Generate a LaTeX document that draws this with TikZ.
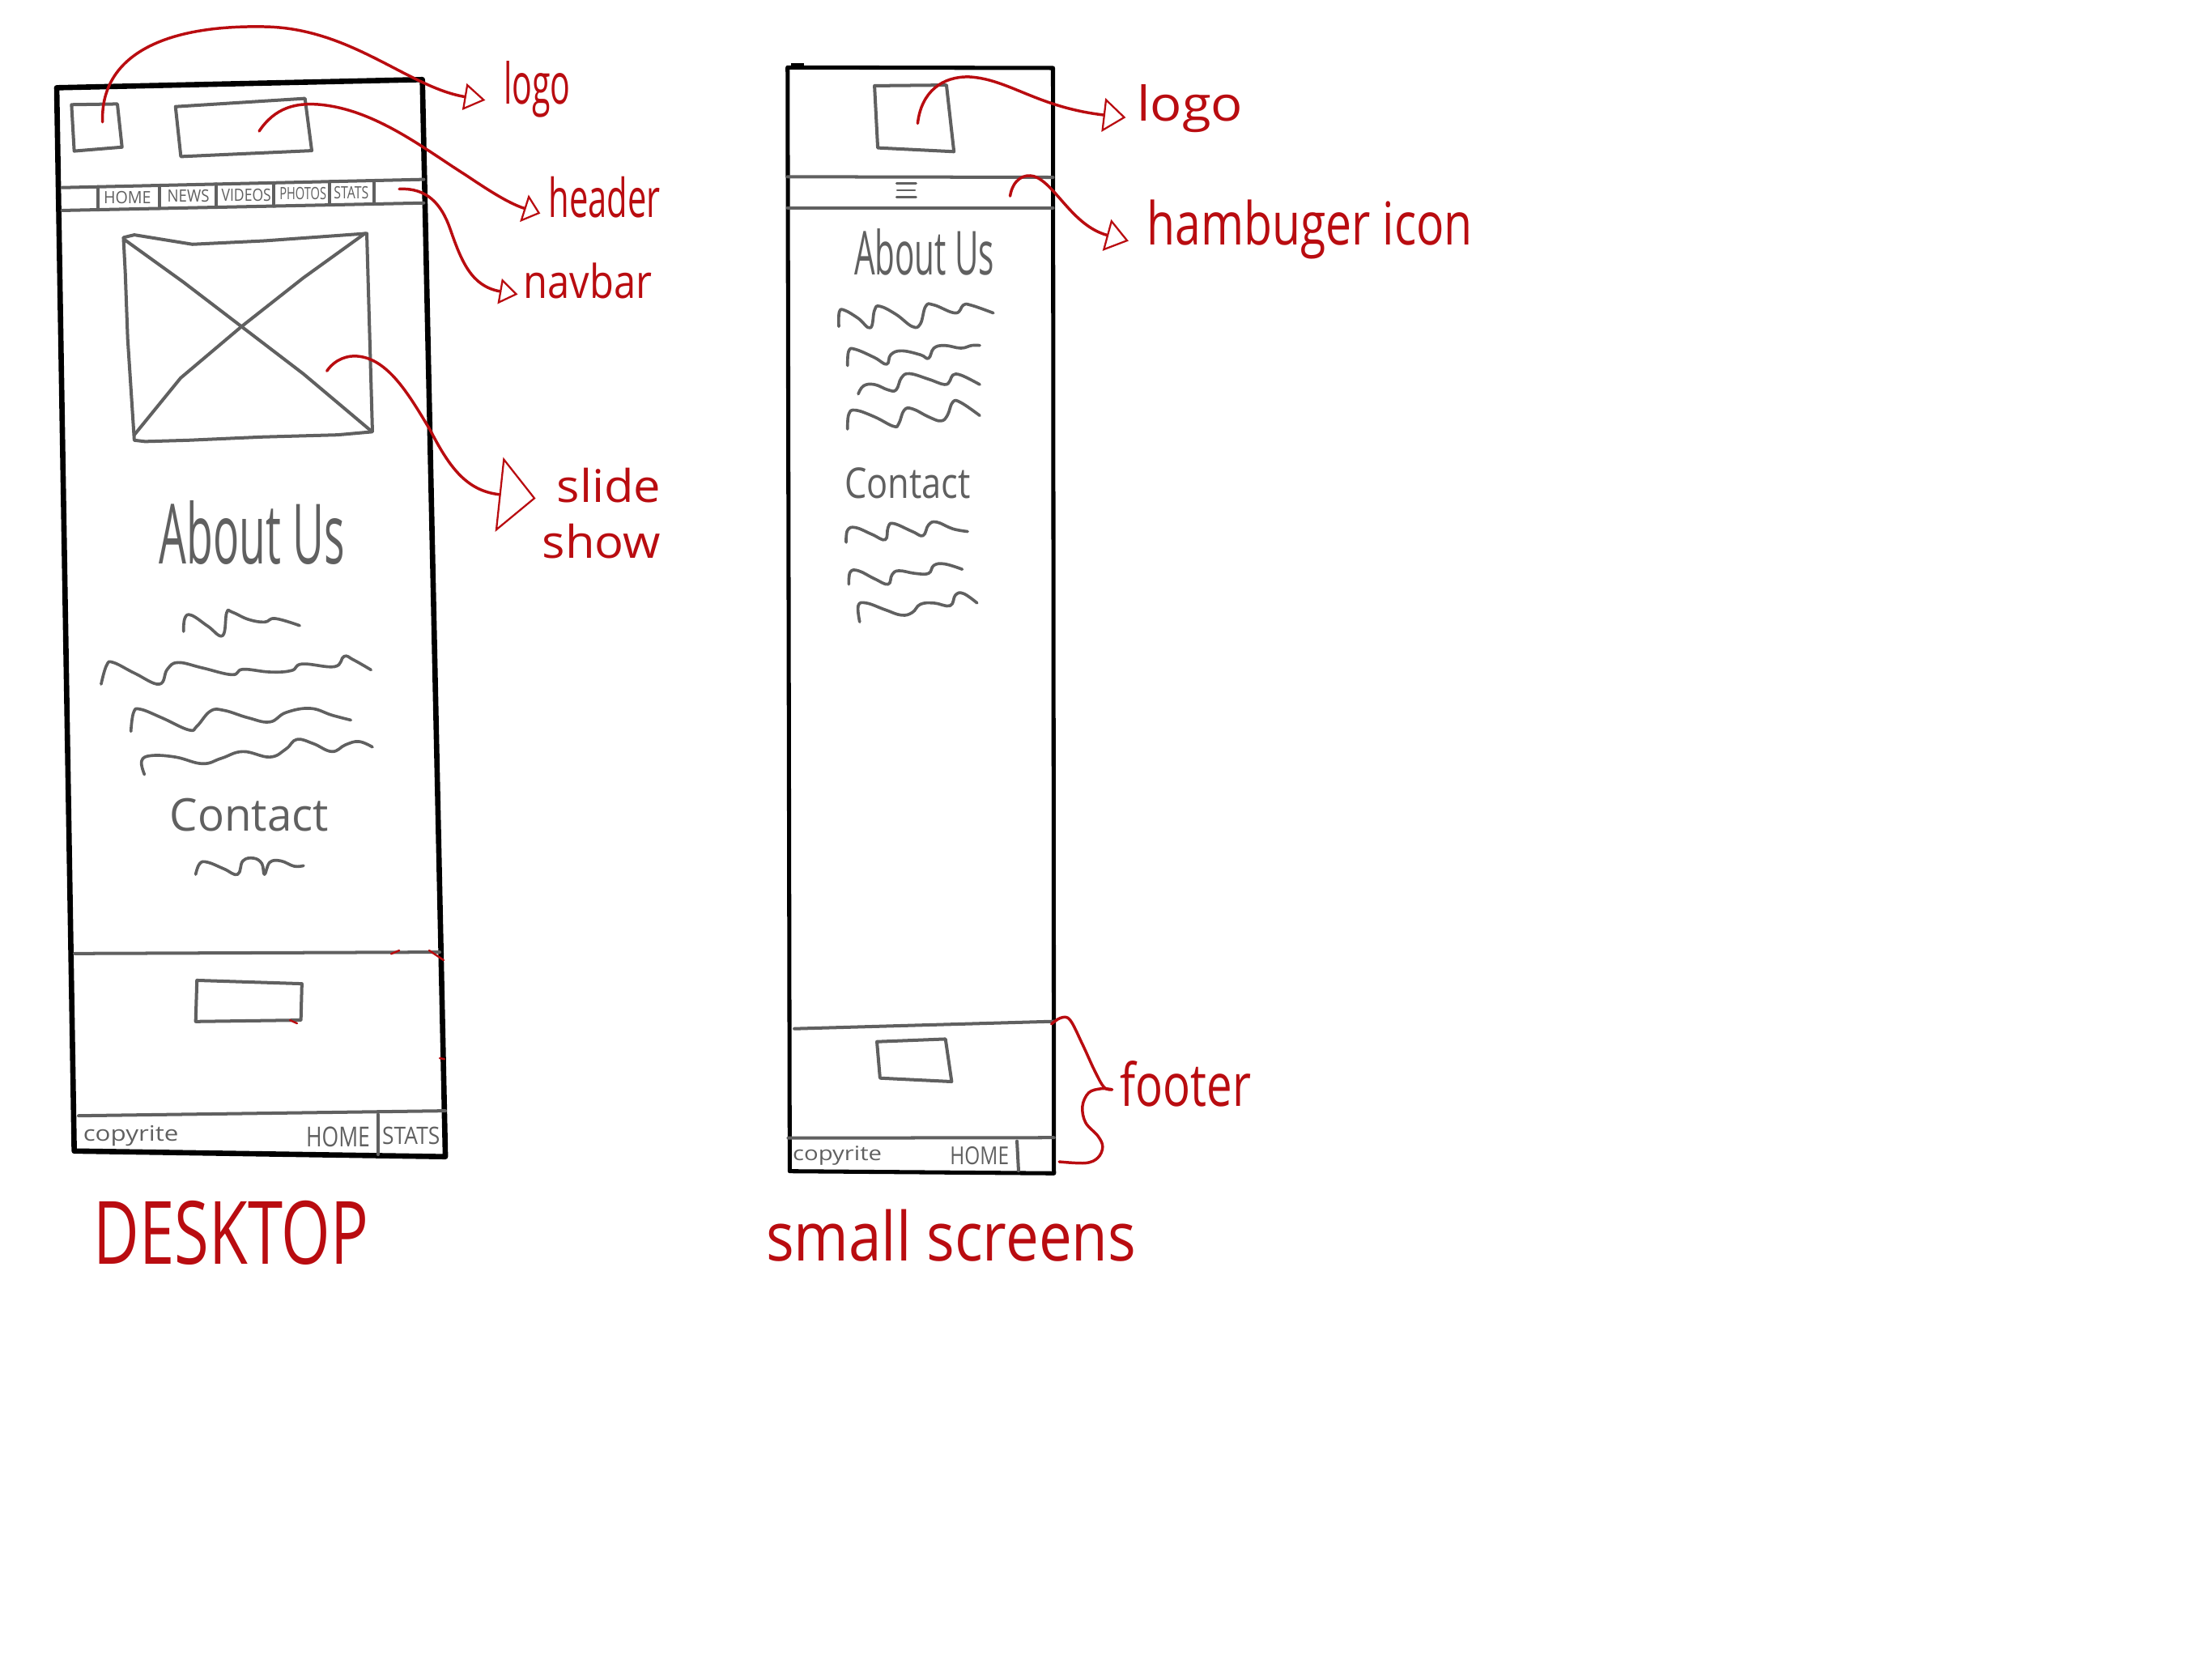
\documentclass[tikz,border=0pt]{standalone}
\usepackage{fontspec}
\setmainfont{Open Sans}
\usepackage{graphicx}
\usetikzlibrary{arrows.meta}
\definecolor{inkred}{RGB}{185,12,16}
\definecolor{inkgray}{RGB}{96,96,96}
\newcommand{\sketchtext}[3]{{\fontsize{#1}{#1}\selectfont\scalebox{#2}[1]{#3}}}

\begin{document}
\begin{tikzpicture}[y=1.00pt, x=1.00pt, yscale=-1.000000, xscale=1.000000, inner sep=0pt, outer sep=0pt,
  frame/.style={draw=black, line width=3.8pt, line join=round, line cap=round},
  wire/.style={draw=inkgray, line width=2.3pt, line join=round, line cap=round},
  scribble/.style={draw=inkgray, line width=2.1pt, line join=round, line cap=round},
  redpen/.style={draw=inkred, line width=2.0pt, line join=round, line cap=round},
  graytext/.style={text=inkgray},
  redtext/.style={text=inkred}]
\path[use as bounding box, fill=white] (0,0) rectangle (1568,1175);

% ---------------- desktop
\path[frame] (40.2,62.2) -- (299.4,56.4) -- (315.7,820.0) -- (52.6,816.0) -- cycle;
\path[wire] (50.7,74.2) -- (83.2,73.7) -- (86.5,104.3) -- (52.6,107.1) -- cycle;
\path[wire] (124.4,75.6) -- (216.2,69.8) -- (221.0,106.8) -- (128.2,111.0) -- cycle;
% navbar
\path[wire] (44.0,133.0) -- (300.4,127.2);
\path[wire] (44.0,149.2) -- (300.4,143.9);
\path[wire] (69.4,132.4) -- (69.4,148.7);
\path[wire] (112.9,131.4) -- (112.9,147.8);
\path[wire] (153.1,130.5) -- (153.1,146.9);
\path[wire] (194.2,129.6) -- (194.2,146.1);
\path[wire] (233.4,128.7) -- (233.4,145.3);
\path[wire] (265.0,128.0) -- (265.0,144.6);
\path (90.3,144.3) node[graytext, anchor=base] (text-home) {\sketchtext{12}{0.94}{HOME}};
\path (133.5,143.4) node[graytext, anchor=base] (text-news) {\sketchtext{12}{0.89}{NEWS}};
\path (174.6,142.5) node[graytext, anchor=base] (text-videos) {\sketchtext{12}{0.84}{VIDEOS}};
\path (214.8,141.6) node[graytext, anchor=base] (text-photos) {\sketchtext{12}{0.70}{PHOTOS}};
\path (249.0,140.7) node[graytext, anchor=base] (text-stats) {\sketchtext{12}{0.76}{STATS}};
% slide show
\path[wire] (87.5,168.4) -- (95.2,166.5) -- (136.4,173.2) -- (187.9,170.7) -- (260.0,165.5) --
  (262.0,236.0) -- (264.0,306.1) -- (239.4,308.3) -- (185.3,309.8) -- (133.8,312.1) --
  (102.9,313.0) -- (95.2,312.1) -- (90.5,240.0) -- (88.8,193.3) -- cycle;
\path[wire] (88.8,170.3) -- (130.0,200.0) -- (171.2,231.5) -- (215.0,265.0) -- (262.6,305.1);
\path[wire] (258.7,165.5) -- (215.0,197.0) -- (171.2,231.5) -- (128.0,268.0) -- (95.2,308.3);
% about us
\path (112.9,400.0) node[graytext, anchor=base west] (text-about) {\sketchtext{59}{0.52}{About Us}};
\path[scribble] plot[smooth, tension=0.7] coordinates {(130.1,447.7) (131.1,438.1) (135.8,436.2) (147.3,443.9) (157.8,450.6) (160.7,434.3) (164.5,433.9) (176.0,439.1) (187.5,441.0) (195.1,438.5) (212.4,443.5)};
\path[scribble] plot[smooth, tension=0.7] coordinates {(71.7,485.0) (75.6,471.6) (80.4,469.7) (95.7,477.4) (112.9,485.0) (118.6,474.5) (126.3,469.7) (143.5,473.5) (164.5,478.3) (172.2,474.5) (191.3,476.4) (206.6,475.4) (214.3,470.7) (237.2,472.6) (243.9,465.3) (250.6,467.8) (263.0,474.9)};
\path[scribble] plot[smooth, tension=0.7] coordinates {(92.8,518.5) (94.7,505.1) (99.5,502.8) (114.8,508.9) (133.9,517.5) (139.7,514.7) (149.2,504.1) (158.8,503.6) (176.0,508.9) (191.3,511.8) (202.8,505.1) (220.0,502.2) (235.3,507.0) (248.7,510.5)};
\path[scribble] plot[smooth, tension=0.7] coordinates {(102.4,549.1) (100.4,539.5) (107.1,535.7) (124.4,536.7) (143.5,541.4) (156.9,537.6) (172.2,532.8) (191.3,536.7) (202.8,530.9) (210.4,524.2) (221.9,527.1) (235.3,532.8) (244.9,528.0) (254.4,525.7) (264.0,529.6)};
% contact
\path (120.5,589.0) node[graytext, anchor=base west] (text-contact) {\sketchtext{32}{0.98}{Contact}};
\path[scribble] plot[smooth, tension=0.7] coordinates {(138.7,619.9) (141.6,612.2) (147.3,611.3) (158.8,616.0) (168.4,619.9) (172.2,610.3) (179.8,608.4) (185.6,612.2) (187.5,619.9) (191.3,611.3) (199.0,610.3) (208.5,614.1) (215.2,613.7)};
% footer
\path[wire] (52.8,676.0) -- (311.7,675.0);
\path[wire] (139.6,695.0) -- (214.0,697.4) -- (213.3,723.2) -- (138.7,724.2) -- cycle;
\path[wire] (55.7,791.0) -- (315.7,787.5);
\path[wire] (268.0,790.0) -- (268.0,818.5);
\path (59.0,809.0) node[graytext, anchor=base west] (text-copy) {\sketchtext{15}{1.20}{copyrite}};
\path (217.0,813.0) node[graytext, anchor=base west] (text-fhome) {\sketchtext{19.5}{0.78}{HOME}};
\path (271.0,811.0) node[graytext, anchor=base west] (text-fstats) {\sketchtext{17}{0.89}{STATS}};
\path[redpen, line width=1.4pt] (277.3,676.2) -- (283.0,673.8);
\path[redpen, line width=1.4pt] (304.2,673.8) -- (314.5,680.7);
\path[redpen, line width=1.4pt] (205.5,723.2) -- (210.6,725.5);
\path[redpen, line width=1.4pt] (311.7,750.2) -- (315.0,750.8);

% desktop labels
\path (357.0,73.7) node[redtext, anchor=base west] (text-logo) {\sketchtext{40}{0.59}{logo}};
\path (389.0,154.0) node[redtext, anchor=base west] (text-header) {\sketchtext{38}{0.63}{header}};
\path (371.0,211.4) node[redtext, anchor=base west] (text-navbar) {\sketchtext{33}{0.85}{navbar}};
\path (394.7,356.0) node[redtext, anchor=base west] (text-slide) {\sketchtext{32}{1.07}{slide}};
\path (384.4,396.0) node[redtext, anchor=base west] (text-show) {\sketchtext{32}{1.07}{show}};
\path (66.5,896.0) node[redtext, anchor=base west] (text-desktop) {\sketchtext{62}{0.72}{DESKTOP}};

\coordinate (logo-pin) at (72.7,86.5);
\coordinate (header-pin) at (183.7,93.0);
\coordinate (navbar-pin) at (283.0,134.0);
\coordinate (slide-pin) at (231.7,263.0);
\path[redpen, -{Triangle[open, length=15pt, width=19pt, line width=1.3pt]}] (logo-pin) .. controls
  (71.0,40.0) and (115.0,17.0) .. (190.0,19.0) .. controls (250.0,21.0) and (290.0,62.0) ..
  ([xshift=-13pt]text-logo.mid west);
\path[redpen, -{Triangle[open, length=12pt, width=20pt, line width=1.3pt]}] (header-pin) .. controls
  (195.0,76.0) and (210.0,73.0) .. (225.0,74.0) .. controls (265.0,77.0) and (300.0,105.0) ..
  (330.0,124.0) .. controls (345.0,134.0) and (360.0,144.0) .. ([xshift=-6pt]text-header.mid west);
\path[redpen, -{Triangle[open, length=13pt, width=18pt, line width=1.3pt]}] (navbar-pin) .. controls
  (303.0,133.0) and (313.0,145.0) .. (319.0,162.0) .. controls (327.0,185.0) and (334.0,203.0) ..
  ([xshift=-4pt]text-navbar.mid west);
\path[redpen, -{Triangle[open, length=26pt, width=53pt, line width=1.3pt]}] (slide-pin) .. controls
  (238.0,254.0) and (247.0,252.0) .. (253.0,252.5) .. controls (275.0,254.0) and (290.0,280.0) ..
  (305.0,305.0) .. controls (318.0,330.0) and (330.0,348.0) .. ([xshift=-15pt]text-slide.mid west);

% ---------------- small screens
\path[frame, line width=2.9pt] (558.3,47.8) -- (746.4,48.2) -- (747.1,831.8) -- (559.8,830.3) -- cycle;
\path[draw=black, line width=3.5pt] (561.0,46.8) -- (570.0,46.8);
\path[wire] (558.3,125.3) -- (746.4,125.7);
\path[wire] (558.3,147.3) -- (746.4,147.3);
\path[wire] (619.9,60.8) -- (670.9,60.3) -- (676.2,107.5) -- (622.2,104.8) -- cycle;
\path[wire, line width=1.6pt] (635.5,130.1) -- (649.4,130.1);
\path[wire, line width=1.6pt] (636.0,134.9) -- (648.5,134.9);
\path[wire, line width=1.6pt] (635.5,139.7) -- (649.4,139.7);
% about us
\path (605.5,195.1) node[graytext, anchor=base west] (text-mabout) {\sketchtext{43}{0.54}{About Us}};
\path[scribble] plot[smooth, tension=0.7] coordinates {(594.6,231.5) (595.0,221.0) (598.8,220.0) (608.4,225.7) (617.0,232.4) (619.9,220.0) (623.7,217.1) (635.2,222.9) (646.7,231.5) (652.4,229.6) (656.2,217.1) (662.0,216.2) (677.3,221.9) (683.0,216.2) (688.8,216.5) (704.1,221.9)};
\path[scribble] plot[smooth, tension=0.7] coordinates {(600.8,259.2) (601.7,248.7) (606.5,247.7) (619.9,253.5) (628.5,258.2) (631.4,251.5) (639.0,248.7) (652.4,251.5) (658.2,254.0) (662.0,246.8) (669.6,244.9) (681.1,246.8) (688.8,244.9) (694.5,244.9)};
\path[scribble] plot[smooth, tension=0.7] coordinates {(608.4,279.3) (612.2,273.5) (619.9,272.6) (629.5,276.4) (635.2,276.4) (639.0,267.8) (644.8,264.9) (658.2,268.8) (669.6,272.6) (673.5,269.7) (675.4,265.9) (681.1,265.9) (694.5,272.6)};
\path[scribble] plot[smooth, tension=0.7] coordinates {(600.8,304.2) (601.7,293.6) (606.5,290.8) (619.9,295.5) (633.3,302.2) (637.1,300.3) (640.9,290.8) (646.7,289.8) (658.2,295.5) (666.8,298.4) (671.5,294.6) (675.4,285.0) (681.1,285.4) (694.5,294.6)};
% contact
\path (598.8,353.0) node[graytext, anchor=base west] (text-mcontact) {\sketchtext{30}{0.83}{Contact}};
\path[scribble] plot[smooth, tension=0.7] coordinates {(599.8,384.5) (600.8,375.9) (606.5,374.0) (618.0,378.8) (627.5,382.6) (629.5,374.0) (633.3,371.1) (646.7,376.8) (654.3,379.7) (658.2,372.1) (663.9,370.1) (675.4,374.9) (685.9,376.8)};
\path[scribble] plot[smooth, tension=0.7] coordinates {(601.7,414.2) (602.7,405.6) (608.4,404.6) (619.9,410.3) (629.5,414.2) (632.3,407.5) (637.1,404.6) (648.6,406.5) (658.2,406.5) (662.0,400.8) (669.6,399.8) (682.1,403.6)};
\path[scribble] plot[smooth, tension=0.7] coordinates {(609.4,440.9) (608.4,429.4) (614.1,427.5) (627.5,432.3) (639.0,436.1) (646.7,434.2) (652.4,428.4) (662.0,427.5) (673.5,429.4) (677.3,421.8) (683.0,420.8) (692.6,427.5)};
% footer
\path[wire] (563.1,729.3) -- (747.1,724.1);
\path[wire] (621.6,738.5) -- (670.2,736.6) -- (674.6,766.8) -- (623.8,764.3) -- cycle;
\path[wire] (558.7,806.8) -- (747.1,806.5);
\path[wire] (720.9,809.0) -- (722.0,830.0);
\path (562.0,823.0) node[graytext, anchor=base west] (text-mcopy) {\sketchtext{14}{1.20}{copyrite}};
\path (673.5,825.6) node[graytext, anchor=base west] (text-mhome) {\sketchtext{17.5}{0.80}{HOME}};

% small screen labels
\path (806.0,86.0) node[redtext, anchor=base west] (text-mlogo) {\sketchtext{34}{1.10}{logo}};
\path (813.0,173.5) node[redtext, anchor=base west] (text-burger) {\sketchtext{42}{0.78}{hambuger icon}};
\path (794.0,784.0) node[redtext, anchor=base west] (text-footer) {\sketchtext{42}{0.77}{footer}};
\path (543.0,894.0) node[redtext, anchor=base west] (text-small) {\sketchtext{48}{0.87}{small screens}};

\coordinate (mlogo-pin) at (650.5,87.5);
\coordinate (burger-pin) at (716.0,139.0);
\coordinate (brace-top) at (745.3,726.0);
\coordinate (brace-tip) at (788.3,772.4);
\coordinate (brace-end) at (750.8,823.6);
\path[redpen, -{Triangle[open, length=16pt, width=24pt, line width=1.3pt]}] (mlogo-pin) .. controls
  (653.0,65.0) and (668.0,54.0) .. (687.0,54.5) .. controls (715.0,56.0) and (735.0,76.0) ..
  ([xshift=-8pt]text-mlogo.mid west);
\path[redpen, -{Triangle[open, length=16pt, width=23pt, line width=1.3pt]}] (burger-pin) .. controls
  (718.0,127.0) and (726.0,123.0) .. (733.0,125.0) .. controls (748.0,130.0) and (760.0,160.0) ..
  ([xshift=-13pt]text-burger.mid west);
\path[redpen] plot[smooth, tension=0.6] coordinates {(brace-top) (751.9,721.6) (758.5,723.1) (767.3,740.3) (776.1,759.4) (782.7,770.9) (brace-tip)};
\path[redpen] plot[smooth, tension=0.6] coordinates {(brace-tip) (780.5,771.8) (771.7,774.7) (767.3,784.3) (769.5,795.8) (778.3,805.4) (781.6,813.0) (778.3,820.7) (769.5,824.5) (brace-end)};
\end{tikzpicture}
\end{document}
